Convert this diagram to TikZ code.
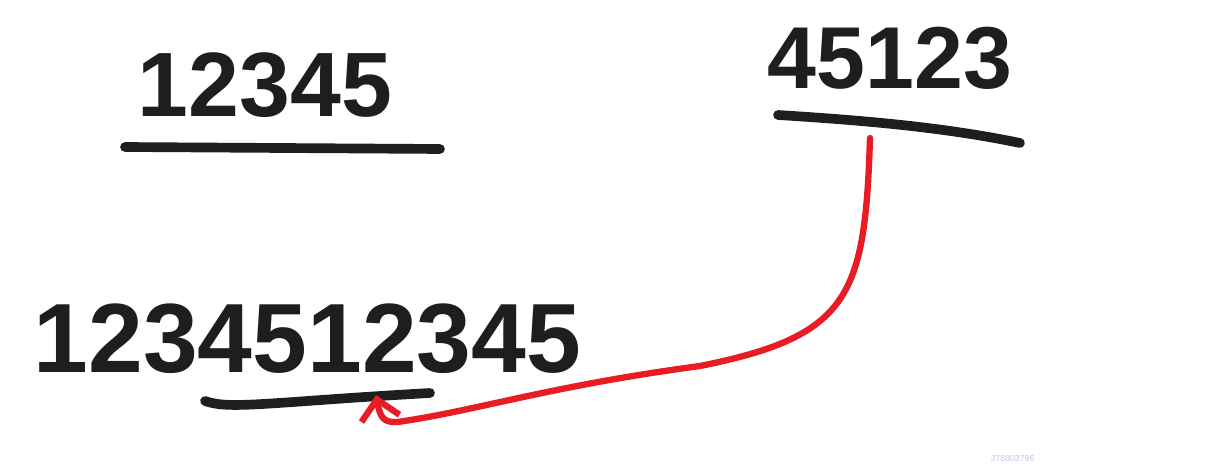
\documentclass[tikz,border=0pt]{standalone}
\usepackage{fontspec}
\setmainfont{Liberation Sans}
\usetikzlibrary{arrows.meta,positioning}
\definecolor{ink}{RGB}{30,30,30}
\definecolor{pen}{RGB}{232,28,36}
\definecolor{mark}{RGB}{200,195,235}

\begin{document}
\begin{tikzpicture}[
    digits/.style={text=ink, inner sep=0pt, font=\bfseries},
    underline/.style={ink, line width=5.5pt, line cap=round},
    redpen/.style={pen, line width=3.6pt, line cap=round, -{Straight Barb[length=11pt,width=22pt,line width=3.6pt]}}
  ]
  \useasboundingbox (0,0) rectangle (24.22,9.32);

  % Numbers
  \node[digits] (orig) at (5.3, 7.62) {\fontsize{52}{56}\selectfont 12345};
  \node[digits] (rot) at (17.8, 8.15) {\fontsize{50}{54}\selectfont 45123};
  \node[digits] (twice) at (6.15, 2.55) {\fontsize{56}{60}\selectfont 1234512345};

  % Underlines
  \draw[underline] (2.5, 6.38) -- (8.8, 6.34);
  \draw[underline] (15.56, 7.02) .. controls (17.5, 6.9) and (19.0, 6.75) .. (20.4, 6.46);
  \draw[underline] (4.1, 1.3) .. controls (4.6, 1.12) and (5.4, 1.28) .. (8.6, 1.46);

  % Red arrow from rotated string to its place in the doubled string
  \coordinate (from) at (17.4, 6.56);
  \coordinate (to) at (7.52, 1.42);
  \draw[redpen] (from) .. controls (17.3, 3.4) and (17.0, 2.6) .. (14.0, 2.0)
    .. controls (11.0, 1.6) and (9.5, 1.1) .. (7.95, 0.88)
    .. controls (7.65, 0.86) and (7.6, 1.0) .. (to);

  % Watermark
  \node[text=mark, font=\tiny] (wm) at (20.25, 0.16) {378803796};
\end{tikzpicture}
\end{document}
